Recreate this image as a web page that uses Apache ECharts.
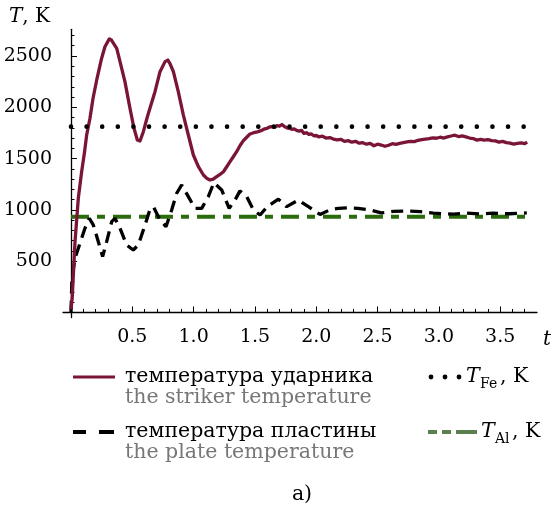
<!DOCTYPE html>
<html>
<head>
<meta charset="utf-8">
<script src="https://cdn.jsdelivr.net/npm/echarts@6/dist/echarts.min.js"></script>
<style>html,body{margin:0;padding:0;background:#fff;}#c{width:557px;height:513px;}</style>
</head>
<body>
<div id="c"></div>
<script>
// ---- data ----
var strikerT = [0,0.01,0.033,0.06,0.087,0.11,0.128,0.155,0.18,0.21,0.25,0.277,0.3,0.313,0.33,0.345,0.373,0.40,0.44,0.481,0.514,0.541,0.563,0.59,0.623,0.644,0.685,0.726,0.767,0.79,0.806,0.835,0.875,0.916,0.957,0.998,1.039,1.08,1.11,1.134,1.16,1.188,1.215,1.243,1.27,1.297,1.325,1.351,1.38,1.406,1.435,1.46,1.49,1.52,1.55,1.58,1.60,1.62,1.64,1.66,1.68,1.70,1.72,1.74,1.76,1.78,1.80,1.82,1.84,1.86,1.88,1.90,1.92,1.94,1.96,1.98,2.00,2.02,2.05,2.08,2.11,2.14,2.17,2.20,2.23,2.26,2.29,2.32,2.35,2.38,2.41,2.44,2.47,2.50,2.53,2.56,2.59,2.62,2.65,2.68,2.71,2.74,2.77,2.80,2.83,2.86,2.89,2.92,2.95,2.98,3.01,3.04,3.07,3.10,3.13,3.16,3.19,3.22,3.25,3.28,3.31,3.34,3.37,3.40,3.43,3.46,3.49,3.52,3.55,3.58,3.61,3.64,3.67,3.70,3.72];
var strikerK = [30,140,690,1115,1372,1560,1730,1893,2088,2266,2478,2590,2640,2666,2655,2646,2575,2445,2250,1990,1795,1681,1671,1762,1908,1990,2152,2347,2445,2460,2429,2347,2152,1925,1730,1535,1421,1340,1305,1291,1300,1324,1345,1372,1420,1470,1520,1567,1630,1675,1710,1740,1752,1760,1772,1790,1795,1808,1812,1805,1822,1815,1832,1812,1800,1795,1785,1790,1775,1768,1775,1745,1752,1735,1740,1722,1725,1712,1718,1700,1705,1690,1682,1688,1668,1675,1660,1668,1650,1655,1640,1648,1625,1640,1632,1620,1630,1645,1638,1648,1655,1662,1668,1665,1678,1685,1690,1695,1702,1698,1708,1700,1712,1720,1728,1715,1722,1712,1700,1695,1680,1688,1680,1685,1675,1672,1660,1668,1655,1650,1640,1648,1652,1645,1660];

var plateT = [0,0.008,0.033,0.06,0.087,0.114,0.149,0.182,0.223,0.258,0.291,0.332,0.359,0.40,0.454,0.508,0.549,0.604,0.64,0.672,0.726,0.775,0.821,0.862,0.903,0.957,1.011,1.066,1.12,1.165,1.229,1.29,1.338,1.378,1.433,1.487,1.542,1.60,1.691,1.759,1.854,1.936,2.031,2.11,2.18,2.25,2.34,2.44,2.53,2.63,2.74,2.85,2.955,3.05,3.118,3.227,3.336,3.44,3.58,3.717];
var plateK = [0,336,528,626,723,820,918,853,690,544,690,885,918,820,658,609,658,853,990,1031,901,836,999,1162,1243,1129,1015,1015,1129,1265,1194,1015,1096,1185,1129,1000,950,1031,1105,1031,1096,1031,955,1000,1015,1020,1015,1000,970,985,990,983,968,962,958,968,960,968,962,970];

var meltFeK = 1811;   // T_Fe
var meltAlK = 933;    // T_Al
var tRange = [0, 3.72];

var xMajorTicks = [0.5,1.0,1.5,2.0,2.5,3.0,3.5];
var xMinorTicks = [0.1,0.2,0.3,0.4,0.6,0.7,0.8,0.9,1.1,1.2,1.3,1.4,1.6,1.7,1.8,1.9,2.1,2.2,2.3,2.4,2.6,2.7,2.8,2.9,3.1,3.2,3.3,3.4,3.6,3.7];
var yMajorTicks = [500,1000,1500,2000,2500];
var yMinorTicks = [100,200,300,400,600,700,800,900,1100,1200,1300,1400,1600,1700,1800,1900,2100,2200,2300,2400,2600,2700];

function pairs(xs, ys){ return xs.map(function(x,i){ return [x, ys[i]]; }); }

var FONT = 'DejaVu Serif';
var LF = 20.5;
var chart = echarts.init(document.getElementById('c'), null, {renderer:'canvas'});

var axCommonX = {type:'value', min:-0.065, max:3.8, splitLine:{show:false}};
var axCommonY = {type:'value', min:-50, max:2760, splitLine:{show:false}};

var option = {
  animation:false,
  backgroundColor:'#fff',
  grid:{left:63, right:20, top:29.3, bottom:195.4, containLabel:false},
  xAxis:[
    Object.assign({}, axCommonX, {
      position:'bottom',
      axisLine:{show:true, onZero:true, lineStyle:{color:'#000', width:1.3}},
      axisTick:{show:true, inside:true, length:6, customValues:xMajorTicks, lineStyle:{color:'#000', width:1}},
      axisLabel:{show:true, customValues:xMajorTicks, margin:10, color:'#000', fontFamily:FONT, fontSize:19,
        formatter:function(v){ return v.toFixed(1); }}
    }),
    Object.assign({}, axCommonX, {
      position:'bottom',
      axisLine:{show:false, onZero:true},
      axisTick:{show:true, inside:true, length:3.5, customValues:xMinorTicks, lineStyle:{color:'#000', width:1}},
      axisLabel:{show:false}
    })
  ],
  yAxis:[
    Object.assign({}, axCommonY, {
      position:'left',
      axisLine:{show:true, onZero:true, lineStyle:{color:'#000', width:1.3}},
      axisTick:{show:true, inside:true, length:6, customValues:yMajorTicks, lineStyle:{color:'#000', width:1}},
      axisLabel:{show:true, customValues:yMajorTicks, margin:11, color:'#000', fontFamily:FONT, fontSize:19,
        formatter:function(v){ return String(v); }}
    }),
    Object.assign({}, axCommonY, {
      position:'left',
      axisLine:{show:false, onZero:true},
      axisTick:{show:true, inside:true, length:3.5, customValues:yMinorTicks, lineStyle:{color:'#000', width:1}},
      axisLabel:{show:false}
    })
  ],
  series:[
    {name:'T_Al', type:'line', xAxisIndex:0, yAxisIndex:0, showSymbol:false, silent:true,
      data:pairs(tRange,[meltAlK,meltAlK]),
      lineStyle:{color:'#2a6b0c', width:4, type:[18,8,8,8]}},
    {name:'plate', type:'line', xAxisIndex:0, yAxisIndex:0, showSymbol:false, silent:true,
      data:pairs(plateT, plateK),
      lineStyle:{color:'#000', width:3.3, type:[12,7]}},
    {name:'striker', type:'line', xAxisIndex:0, yAxisIndex:0, showSymbol:false, silent:true,
      data:pairs(strikerT, strikerK),
      lineStyle:{color:'#7b1538', width:3.3, join:'round'}},
    {name:'T_Fe', type:'line', xAxisIndex:0, yAxisIndex:0, showSymbol:false, silent:true,
      data:pairs(tRange,[meltFeK,meltFeK]),
      lineStyle:{color:'#000', width:4.6, type:[0.01,15.6], cap:'round'}}
  ],
  graphic:[
    {type:'text', left:9, top:7, style:{rich:{i:{fontFamily:FONT, fontStyle:'italic', fontSize:20, fill:'#000'}, n:{fontFamily:FONT, fontSize:20, fill:'#000'}}, text:'{i|T}{n|, K}'}},
    {type:'text', left:543, top:330, style:{text:'t', fontFamily:FONT, fontStyle:'italic', fontSize:20, fill:'#000'}},
    // legend row 1
    {type:'line', shape:{x1:73,y1:377,x2:115,y2:377}, style:{stroke:'#7b1538', lineWidth:3}},
    {type:'text', x:125, y:377, style:{text:'температура ударника', fontFamily:FONT, fontSize:LF, fill:'#000', verticalAlign:'middle'}},
    {type:'text', x:125, y:398, style:{text:'the striker temperature', fontFamily:FONT, fontSize:LF, fill:'#777', verticalAlign:'middle'}},
    {type:'circle', shape:{cx:431,cy:377,r:2.4}, style:{fill:'#000'}},
    {type:'circle', shape:{cx:445,cy:377,r:2.4}, style:{fill:'#000'}},
    {type:'circle', shape:{cx:459,cy:377,r:2.4}, style:{fill:'#000'}},
    {type:'text', x:466, y:377, style:{text:'T', fontFamily:FONT, fontStyle:'italic', fontSize:LF, fill:'#000', verticalAlign:'middle'}},
    {type:'text', x:480, y:384, style:{text:'Fe', fontFamily:FONT, fontSize:14, fill:'#000', verticalAlign:'middle'}},
    {type:'text', x:500, y:377, style:{text:', K', fontFamily:FONT, fontSize:LF, fill:'#000', verticalAlign:'middle'}},
    // legend row 2
    {type:'rect', shape:{x:73,y:430,width:13,height:4}, style:{fill:'#000'}},
    {type:'rect', shape:{x:99,y:430,width:15,height:4}, style:{fill:'#000'}},
    {type:'text', x:125, y:432, style:{text:'температура пластины', fontFamily:FONT, fontSize:LF, fill:'#000', verticalAlign:'middle'}},
    {type:'text', x:125, y:453, style:{text:'the plate temperature', fontFamily:FONT, fontSize:LF, fill:'#777', verticalAlign:'middle'}},
    {type:'rect', shape:{x:428,y:430,width:9,height:4}, style:{fill:'#5b8050'}},
    {type:'rect', shape:{x:442,y:430,width:9,height:4}, style:{fill:'#5b8050'}},
    {type:'rect', shape:{x:456,y:430,width:21,height:4}, style:{fill:'#5b8050'}},
    {type:'text', x:481, y:432, style:{text:'T', fontFamily:FONT, fontStyle:'italic', fontSize:LF, fill:'#000', verticalAlign:'middle'}},
    {type:'text', x:495, y:439, style:{text:'Al', fontFamily:FONT, fontSize:14, fill:'#000', verticalAlign:'middle'}},
    {type:'text', x:512, y:432, style:{text:', K', fontFamily:FONT, fontSize:LF, fill:'#000', verticalAlign:'middle'}},
    // caption
    {type:'text', x:302, y:495, style:{text:'a)', fontFamily:FONT, fontSize:LF, fill:'#000', align:'center', verticalAlign:'middle'}}
  ]
};
chart.setOption(option);
</script>
</body>
</html>
